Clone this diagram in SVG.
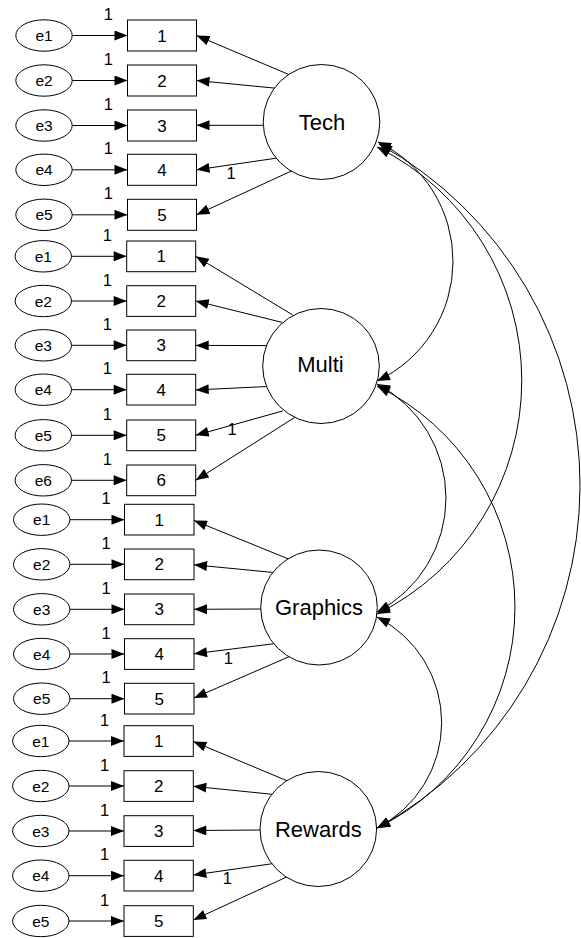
<svg xmlns="http://www.w3.org/2000/svg" width="581" height="938" viewBox="0 0 581 938">
<style>
.ln{stroke:#000;stroke-width:1;fill:none}
.ar{marker-end:url(#ah)}
.cv{marker-start:url(#ah);marker-end:url(#ah)}
.box{fill:#fff;stroke:#000;stroke-width:1}
.err{fill:#fff;stroke:#000;stroke-width:1}
.lat{fill:#fff;stroke:#000;stroke-width:1}
text{font-family:"Liberation Sans",Arial,sans-serif;fill:#000;text-anchor:middle}
.tb{font-size:17px}
.te{font-size:15.5px}
.tl{font-size:22px}
.tw{font-size:16.5px}
</style>
<defs>
<marker id="ah" viewBox="0 0 13 10" refX="13" refY="5" markerWidth="13.5" markerHeight="10" markerUnits="userSpaceOnUse" orient="auto-start-reverse"><path d="M0,0 L13,5 L0,10 z" fill="#000"/></marker>
</defs>
<g id="connectors">
<path class="ln ar" d="M72.2,35.5 L127.5,35.5"/>
<path class="ln ar" d="M72.2,80.5 L127.5,80.5"/>
<path class="ln ar" d="M72.2,125.5 L127.5,125.5"/>
<path class="ln ar" d="M72.2,169.8 L127.5,169.8"/>
<path class="ln ar" d="M72.2,214.8 L127.5,214.8"/>
<path class="ln ar" d="M71.5,256.3 L126.7,256.3"/>
<path class="ln ar" d="M71.5,301 L126.7,301"/>
<path class="ln ar" d="M71.5,345.3 L126.7,345.3"/>
<path class="ln ar" d="M71.5,389.7 L126.7,389.7"/>
<path class="ln ar" d="M71.5,435.3 L126.7,435.3"/>
<path class="ln ar" d="M71.5,480.3 L126.7,480.3"/>
<path class="ln ar" d="M69.9,519.7 L124.5,519.7"/>
<path class="ln ar" d="M69.9,564.3 L124.5,564.3"/>
<path class="ln ar" d="M69.9,609.3 L124.5,609.3"/>
<path class="ln ar" d="M69.9,654 L124.5,654"/>
<path class="ln ar" d="M69.9,698.7 L124.5,698.7"/>
<path class="ln ar" d="M69,741 L124,741"/>
<path class="ln ar" d="M69,786 L124,786"/>
<path class="ln ar" d="M69,831 L124,831"/>
<path class="ln ar" d="M69,875.7 L124,875.7"/>
<path class="ln ar" d="M69,921 L124,921"/>
<path class="ln ar" d="M292.8,76.2 L196.5,35.5"/>
<path class="ln ar" d="M279.7,88.6 L196.5,80.5"/>
<path class="ln ar" d="M266.5,125.3 L196.5,125.3"/>
<path class="ln ar" d="M278.3,157.9 L196.5,169.8"/>
<path class="ln ar" d="M292.7,170.4 L196.5,214.8"/>
<path class="ln ar" d="M292.6,314.9 L195.7,256.3"/>
<path class="ln ar" d="M282.2,322.4 L195.7,301"/>
<path class="ln ar" d="M268,345.6 L195.7,345.4"/>
<path class="ln ar" d="M268,386.5 L195.7,389.9"/>
<path class="ln ar" d="M282.9,410.9 L195.7,435.3"/>
<path class="ln ar" d="M295.8,416.7 L195.7,480.3"/>
<path class="ln ar" d="M289.5,559.4 L194,520.5"/>
<path class="ln ar" d="M274.7,572.6 L194,564.8"/>
<path class="ln ar" d="M263.7,609 L194,609.3"/>
<path class="ln ar" d="M274.7,643.6 L194,653.8"/>
<path class="ln ar" d="M289.5,656.5 L194,698"/>
<path class="ln ar" d="M287.8,781.1 L193.3,741.5"/>
<path class="ln ar" d="M272.3,794.3 L193.3,786.3"/>
<path class="ln ar" d="M263,830 L193.3,830.5"/>
<path class="ln ar" d="M273,863.6 L193.3,875"/>
<path class="ln ar" d="M287.7,876.5 L193.3,920"/>
<path class="ln cv" d="M378,142 A132.3,132.3 0 0 1 377,381"/>
<path class="ln cv" d="M377,147 A260.7,260.7 0 0 1 377,614"/>
<path class="ln cv" d="M379,144 A390.5,390.5 0 0 1 377,828"/>
<path class="ln cv" d="M377,384 A128.7,128.7 0 0 1 377,612"/>
<path class="ln cv" d="M377,386 A246,246 0 0 1 377,828"/>
<path class="ln cv" d="M377,617 A118.4,118.4 0 0 1 377,828"/>
<text class="tw" x="108.3" y="20">1</text>
<text class="tw" x="108.3" y="65">1</text>
<text class="tw" x="108.3" y="110">1</text>
<text class="tw" x="108.3" y="154.3">1</text>
<text class="tw" x="108.3" y="199.3">1</text>
<text class="tw" x="107.3" y="241">1</text>
<text class="tw" x="107.3" y="285.7">1</text>
<text class="tw" x="107.3" y="330">1</text>
<text class="tw" x="107.3" y="374.3">1</text>
<text class="tw" x="107.3" y="420">1</text>
<text class="tw" x="107.3" y="465">1</text>
<text class="tw" x="106" y="504.3">1</text>
<text class="tw" x="106" y="549">1</text>
<text class="tw" x="106" y="594">1</text>
<text class="tw" x="106" y="638.7">1</text>
<text class="tw" x="106" y="683.3">1</text>
<text class="tw" x="104.7" y="725.7">1</text>
<text class="tw" x="104.7" y="770.7">1</text>
<text class="tw" x="104.7" y="815.7">1</text>
<text class="tw" x="104.7" y="860.3">1</text>
<text class="tw" x="104.7" y="905.7">1</text>
<text class="tw" x="231" y="179.3">1</text>
<text class="tw" x="232" y="435">1</text>
<text class="tw" x="228.3" y="664">1</text>
<text class="tw" x="227.3" y="884.3">1</text>
</g>
<g id="tech-e1"><ellipse class="err" cx="44" cy="35.5" rx="28.2" ry="15.7"/><text class="te" x="44" y="41">e1</text></g>
<g id="tech-e2"><ellipse class="err" cx="44" cy="80.5" rx="28.2" ry="15.7"/><text class="te" x="44" y="86">e2</text></g>
<g id="tech-e3"><ellipse class="err" cx="44" cy="125.5" rx="28.2" ry="15.7"/><text class="te" x="44" y="131">e3</text></g>
<g id="tech-e4"><ellipse class="err" cx="44" cy="169.8" rx="28.2" ry="15.7"/><text class="te" x="44" y="175.3">e4</text></g>
<g id="tech-e5"><ellipse class="err" cx="44" cy="214.8" rx="28.2" ry="15.7"/><text class="te" x="44" y="220.3">e5</text></g>
<g id="tech-1"><rect class="box" x="127.5" y="20" width="69" height="31"/><text class="tb" x="162" y="41.5">1</text></g>
<g id="tech-2"><rect class="box" x="127.5" y="65" width="69" height="31"/><text class="tb" x="162" y="86.5">2</text></g>
<g id="tech-3"><rect class="box" x="127.5" y="110" width="69" height="31"/><text class="tb" x="162" y="131.5">3</text></g>
<g id="tech-4"><rect class="box" x="127.5" y="154.3" width="69" height="31"/><text class="tb" x="162" y="175.8">4</text></g>
<g id="tech-5"><rect class="box" x="127.5" y="199.3" width="69" height="31"/><text class="tb" x="162" y="220.8">5</text></g>
<g id="tech"><ellipse class="lat" cx="321.5" cy="122" rx="58.3" ry="57.5"/><text class="tl" x="322" y="129.8">Tech</text></g>
<g id="multi-e1"><ellipse class="err" cx="43.3" cy="256.3" rx="28.2" ry="15.7"/><text class="te" x="43.3" y="261.8">e1</text></g>
<g id="multi-e2"><ellipse class="err" cx="43.3" cy="301" rx="28.2" ry="15.7"/><text class="te" x="43.3" y="306.5">e2</text></g>
<g id="multi-e3"><ellipse class="err" cx="43.3" cy="345.3" rx="28.2" ry="15.7"/><text class="te" x="43.3" y="350.8">e3</text></g>
<g id="multi-e4"><ellipse class="err" cx="43.3" cy="389.7" rx="28.2" ry="15.7"/><text class="te" x="43.3" y="395.2">e4</text></g>
<g id="multi-e5"><ellipse class="err" cx="43.3" cy="435.3" rx="28.2" ry="15.7"/><text class="te" x="43.3" y="440.8">e5</text></g>
<g id="multi-e6"><ellipse class="err" cx="43.3" cy="480.3" rx="28.2" ry="15.7"/><text class="te" x="43.3" y="485.8">e6</text></g>
<g id="multi-1"><rect class="box" x="126.7" y="241" width="69" height="30.7"/><text class="tb" x="161.2" y="262.3">1</text></g>
<g id="multi-2"><rect class="box" x="126.7" y="285.7" width="69" height="30.7"/><text class="tb" x="161.2" y="307">2</text></g>
<g id="multi-3"><rect class="box" x="126.7" y="330" width="69" height="30.7"/><text class="tb" x="161.2" y="351.3">3</text></g>
<g id="multi-4"><rect class="box" x="126.7" y="374.3" width="69" height="30.7"/><text class="tb" x="161.2" y="395.7">4</text></g>
<g id="multi-5"><rect class="box" x="126.7" y="420" width="69" height="30.7"/><text class="tb" x="161.2" y="441.3">5</text></g>
<g id="multi-6"><rect class="box" x="126.7" y="465" width="69" height="30.7"/><text class="tb" x="161.2" y="486.3">6</text></g>
<g id="multi"><ellipse class="lat" cx="321" cy="366" rx="58.3" ry="57.5"/><text class="tl" x="320.5" y="372.3">Multi</text></g>
<g id="graphics-e1"><ellipse class="err" cx="41.7" cy="519.7" rx="28.2" ry="15.7"/><text class="te" x="41.7" y="525.2">e1</text></g>
<g id="graphics-e2"><ellipse class="err" cx="41.7" cy="564.3" rx="28.2" ry="15.7"/><text class="te" x="41.7" y="569.8">e2</text></g>
<g id="graphics-e3"><ellipse class="err" cx="41.7" cy="609.3" rx="28.2" ry="15.7"/><text class="te" x="41.7" y="614.8">e3</text></g>
<g id="graphics-e4"><ellipse class="err" cx="41.7" cy="654" rx="28.2" ry="15.7"/><text class="te" x="41.7" y="659.5">e4</text></g>
<g id="graphics-e5"><ellipse class="err" cx="41.7" cy="698.7" rx="28.2" ry="15.7"/><text class="te" x="41.7" y="704.2">e5</text></g>
<g id="graphics-1"><rect class="box" x="124.5" y="504.3" width="69.5" height="30.7"/><text class="tb" x="159.2" y="525.7">1</text></g>
<g id="graphics-2"><rect class="box" x="124.5" y="549" width="69.5" height="30.7"/><text class="tb" x="159.2" y="570.3">2</text></g>
<g id="graphics-3"><rect class="box" x="124.5" y="594" width="69.5" height="30.7"/><text class="tb" x="159.2" y="615.3">3</text></g>
<g id="graphics-4"><rect class="box" x="124.5" y="638.7" width="69.5" height="30.7"/><text class="tb" x="159.2" y="660">4</text></g>
<g id="graphics-5"><rect class="box" x="124.5" y="683.3" width="69.5" height="30.7"/><text class="tb" x="159.2" y="704.7">5</text></g>
<g id="graphics"><ellipse class="lat" cx="319" cy="607.5" rx="58.3" ry="57.5"/><text class="tl" x="319" y="614.8">Graphics</text></g>
<g id="rewards-e1"><ellipse class="err" cx="40.8" cy="741" rx="28.2" ry="15.7"/><text class="te" x="40.8" y="746.5">e1</text></g>
<g id="rewards-e2"><ellipse class="err" cx="40.8" cy="786" rx="28.2" ry="15.7"/><text class="te" x="40.8" y="791.5">e2</text></g>
<g id="rewards-e3"><ellipse class="err" cx="40.8" cy="831" rx="28.2" ry="15.7"/><text class="te" x="40.8" y="836.5">e3</text></g>
<g id="rewards-e4"><ellipse class="err" cx="40.8" cy="875.7" rx="28.2" ry="15.7"/><text class="te" x="40.8" y="881.2">e4</text></g>
<g id="rewards-e5"><ellipse class="err" cx="40.8" cy="921" rx="28.2" ry="15.7"/><text class="te" x="40.8" y="926.5">e5</text></g>
<g id="rewards-1"><rect class="box" x="124" y="725.7" width="69.3" height="30.7"/><text class="tb" x="158.7" y="747">1</text></g>
<g id="rewards-2"><rect class="box" x="124" y="770.7" width="69.3" height="30.7"/><text class="tb" x="158.7" y="792">2</text></g>
<g id="rewards-3"><rect class="box" x="124" y="815.7" width="69.3" height="30.7"/><text class="tb" x="158.7" y="837">3</text></g>
<g id="rewards-4"><rect class="box" x="124" y="860.3" width="69.3" height="30.7"/><text class="tb" x="158.7" y="881.7">4</text></g>
<g id="rewards-5"><rect class="box" x="124" y="905.7" width="69.3" height="30.7"/><text class="tb" x="158.7" y="927">5</text></g>
<g id="rewards"><ellipse class="lat" cx="318.3" cy="829" rx="58.3" ry="57.5"/><text class="tl" x="318.3" y="836.8">Rewards</text></g>
</svg>
